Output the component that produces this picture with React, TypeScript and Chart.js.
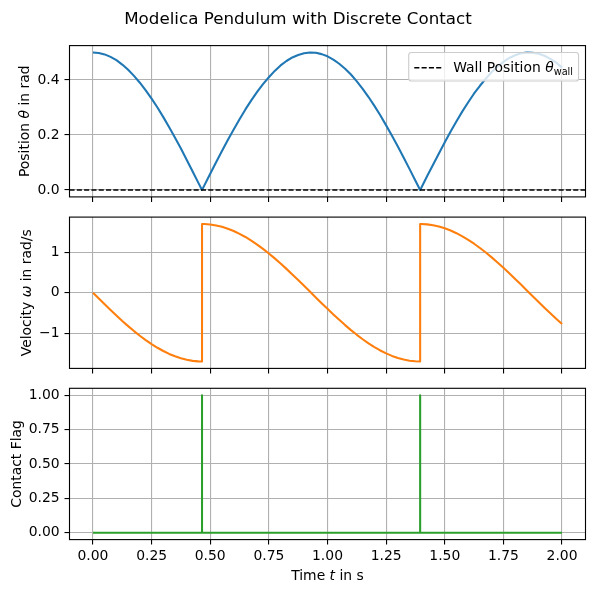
import { useEffect, useRef } from 'react';
import { Chart, registerables } from 'chart.js';

Chart.register(...registerables);

// ---- simulation samples ----
const timeS = [
  0, 0.025, 0.05, 0.075, 0.1, 0.125, 0.15, 0.175, 0.2, 0.225, 0.25, 0.275, 0.3, 0.325, 0.35, 0.375, 0.4, 0.425, 0.45,
  0.465, 0.465,
  0.475, 0.5, 0.525, 0.55, 0.575, 0.6, 0.625, 0.65, 0.675, 0.7, 0.725, 0.75, 0.775, 0.8, 0.825, 0.85, 0.875, 0.9, 0.925,
  0.95, 0.975, 1.0, 1.025, 1.05, 1.075, 1.1, 1.125, 1.15, 1.175, 1.2, 1.225, 1.25, 1.275, 1.3, 1.325, 1.35, 1.375,
  1.395, 1.395,
  1.4, 1.425, 1.45, 1.475, 1.5, 1.525, 1.55, 1.575, 1.6, 1.625, 1.65, 1.675, 1.7, 1.725, 1.75, 1.775, 1.8, 1.825, 1.85,
  1.875, 1.9, 1.925, 1.95, 1.975, 2.0,
];

const positionRad = [
  0.5, 0.498, 0.493, 0.484, 0.472, 0.456, 0.437, 0.415, 0.39, 0.362, 0.332, 0.3, 0.265, 0.228, 0.19, 0.151, 0.109, 0.067, 0.025,
  0, 0,
  0.017, 0.059, 0.101, 0.142, 0.182, 0.22, 0.257, 0.293, 0.326, 0.357, 0.385, 0.41, 0.433, 0.453, 0.469, 0.482, 0.491, 0.497, 0.5,
  0.499, 0.494, 0.486, 0.474, 0.459, 0.441, 0.42, 0.395, 0.368, 0.338, 0.306, 0.272, 0.235, 0.197, 0.158, 0.117, 0.076, 0.034,
  0, 0,
  0.008, 0.051, 0.092, 0.133, 0.174, 0.213, 0.25, 0.286, 0.319, 0.351, 0.379, 0.405, 0.429, 0.449, 0.466, 0.48, 0.49, 0.497, 0.5,
  0.499, 0.495, 0.488, 0.477, 0.463, 0.445,
];

const velocityRadS = [
  0, -0.143, -0.284, -0.424, -0.56, -0.693, -0.82, -0.942, -1.057, -1.164, -1.263, -1.353, -1.433, -1.504, -1.563, -1.611, -1.649, -1.675, -1.688,
  -1.69, 1.69,
  1.689, 1.678, 1.655, 1.621, 1.575, 1.517, 1.449, 1.371, 1.282, 1.185, 1.079, 0.966, 0.845, 0.719, 0.587, 0.451, 0.312, 0.171, 0.029,
  -0.114, -0.256, -0.396, -0.533, -0.666, -0.795, -0.918, -1.034, -1.143, -1.244, -1.336, -1.419, -1.491, -1.553, -1.604, -1.643, -1.67, -1.686,
  -1.69, 1.69,
  1.69, 1.681, 1.661, 1.629, 1.585, 1.53, 1.464, 1.387, 1.301, 1.205, 1.101, 0.989, 0.87, 0.744, 0.613, 0.479, 0.34, 0.2, 0.057,
  -0.085, -0.227, -0.368, -0.506, -0.64, -0.77,
];

const contactTimeS = [0, 0.465, 0.465, 0.465, 1.395, 1.395, 1.395, 2.0];
const contactFlag = [0, 0, 1, 0, 0, 1, 0, 0];

const wallPositionRad = 0;

// ---- axes ticks ----
const timeTicks = [0, 0.25, 0.5, 0.75, 1.0, 1.25, 1.5, 1.75, 2.0];
const timeTickLabels = ['0.00', '0.25', '0.50', '0.75', '1.00', '1.25', '1.50', '1.75', '2.00'];
const positionTicks = [0, 0.2, 0.4];
const positionTickLabels = ['0.0', '0.2', '0.4'];
const velocityTicks = [-1, 0, 1];
const velocityTickLabels = ['\u22121', '0', '1'];
const flagTicks = [0, 0.25, 0.5, 0.75, 1.0];
const flagTickLabels = ['0.00', '0.25', '0.50', '0.75', '1.00'];

// ---- figure geometry & style ----
const W = 596;
const H = 593;
const PLOT_LEFT = 69.5;
const PLOT_RIGHT = 585.5;
const X_MIN = -0.1;
const X_MAX = 2.1;
const FONT = '"DejaVu Sans", sans-serif';
const FS = 13.9;
const TITLE_FS = 16.7;
const GRID = '#b0b0b0';
const C0 = '#1f77b4';
const C1 = '#ff7f0e';
const C2 = '#2ca02c';
const LINE_W = 2.08;
const X_AXIS_H = 40;

type Run = { text: string; italic?: boolean; sub?: boolean };

function drawRuns(ctx: CanvasRenderingContext2D, runs: Run[], x: number, y: number, size: number, align: 'left' | 'center') {
  const parts = runs.map((r) => {
    const s = r.sub ? size * 0.7 : size;
    const font = `${r.italic ? 'italic ' : ''}${s}px ${FONT}`;
    ctx.font = font;
    return { r, font, w: ctx.measureText(r.text).width };
  });
  const total = parts.reduce((a, p) => a + p.w, 0);
  let cx = align === 'center' ? x - total / 2 : x;
  ctx.textAlign = 'left';
  ctx.textBaseline = 'alphabetic';
  ctx.fillStyle = '#000';
  for (const p of parts) {
    ctx.font = p.font;
    ctx.fillText(p.r.text, cx, y + (p.r.sub ? size * 0.22 : 0));
    cx += p.w;
  }
  return total;
}

function measureRuns(ctx: CanvasRenderingContext2D, runs: Run[], size: number) {
  let total = 0;
  for (const r of runs) {
    ctx.font = `${r.italic ? 'italic ' : ''}${r.sub ? size * 0.7 : size}px ${FONT}`;
    total += ctx.measureText(r.text).width;
  }
  return total;
}

const titleRuns: Run[] = [{ text: 'Modelica Pendulum with Discrete Contact' }];
const xLabelRuns: Run[] = [{ text: 'Time ' }, { text: 't', italic: true }, { text: ' in s' }];
const legendRuns: Run[] = [{ text: 'Wall Position ' }, { text: '\u03b8', italic: true }, { text: 'wall', sub: true }];

interface PanelSpec {
  top: number;
  bottom: number;
  yMin: number;
  yMax: number;
  yTicks: number[];
  yTickLabels: string[];
  yLabel: Run[];
  yLabelX: number;
  showTimeLabels: boolean;
  datasets: any[];
  extra?: (ctx: CanvasRenderingContext2D, area: any) => void;
}

function toPoints(xs: number[], ys: number[]) {
  return xs.map((x, i) => ({ x, y: ys[i] }));
}

function drawLegend(ctx: CanvasRenderingContext2D, area: any) {
  const pad = 0.4 * FS;
  const handleLen = 2.0 * FS;
  const handleGap = 0.8 * FS;
  const textW = measureRuns(ctx, legendRuns, FS);
  const boxW = pad + handleLen + handleGap + textW + pad;
  const boxH = 28.4;
  const right = area.right - 0.5 * FS;
  const top = area.top + 0.5 * FS;
  const left = right - boxW;
  ctx.save();
  ctx.beginPath();
  const r = 2.8;
  ctx.roundRect(left, top, boxW, boxH, r);
  ctx.fillStyle = 'rgba(255,255,255,0.8)';
  ctx.fill();
  ctx.lineWidth = 1.1;
  ctx.strokeStyle = '#cccccc';
  ctx.stroke();
  const cy = top + boxH / 2 + 1;
  ctx.beginPath();
  ctx.setLineDash([5.1, 2.2]);
  ctx.strokeStyle = '#000';
  ctx.lineWidth = 1.39;
  ctx.moveTo(left + pad, cy);
  ctx.lineTo(left + pad + handleLen, cy);
  ctx.stroke();
  ctx.setLineDash([]);
  drawRuns(ctx, legendRuns, left + pad + handleLen + handleGap, top + boxH / 2 + 5, FS, 'left');
  ctx.restore();
}

const panels: PanelSpec[] = [
  {
    top: 45.6,
    bottom: 196.9,
    yMin: -0.025,
    yMax: 0.525,
    yTicks: positionTicks,
    yTickLabels: positionTickLabels,
    yLabel: [{ text: 'Position ' }, { text: '\u03b8', italic: true }, { text: ' in rad' }],
    yLabelX: 29,
    showTimeLabels: false,
    datasets: [
      {
        data: [
          { x: X_MIN, y: wallPositionRad },
          { x: X_MAX, y: wallPositionRad },
        ],
        borderColor: '#000',
        borderWidth: 1.39,
        borderDash: [5.1, 2.2],
        order: 0,
      },
      {
        data: toPoints(timeS, positionRad),
        borderColor: C0,
        borderWidth: LINE_W,
        order: 1,
      },
    ],
    extra: (ctx, area) => {
      drawLegend(ctx, area);
      drawRuns(ctx, titleRuns, W / 2, 24, TITLE_FS, 'center');
    },
  },
  {
    top: 217.1,
    bottom: 368.4,
    yMin: -1.86,
    yMax: 1.86,
    yTicks: velocityTicks,
    yTickLabels: velocityTickLabels,
    yLabel: [{ text: 'Velocity ' }, { text: '\u03c9', italic: true }, { text: ' in rad/s' }],
    yLabelX: 30.5,
    showTimeLabels: false,
    datasets: [
      {
        data: toPoints(timeS, velocityRadS),
        borderColor: C1,
        borderWidth: LINE_W,
      },
    ],
  },
  {
    top: 388.3,
    bottom: 539.6,
    yMin: -0.05,
    yMax: 1.05,
    yTicks: flagTicks,
    yTickLabels: flagTickLabels,
    yLabel: [{ text: 'Contact Flag' }],
    yLabelX: 20.5,
    showTimeLabels: true,
    datasets: [
      {
        data: toPoints(contactTimeS, contactFlag),
        borderColor: C2,
        borderWidth: LINE_W,
      },
    ],
    extra: (ctx, area) => {
      drawRuns(ctx, xLabelRuns, (area.left + area.right) / 2, 580, FS, 'center');
    },
  },
];

function buildConfig(spec: PanelSpec): any {
  const decor = {
    id: 'panelDecor',
    afterDatasetsDraw(chart: any) {
      const ctx: CanvasRenderingContext2D = chart.ctx;
      const a = chart.chartArea;
      ctx.save();
      ctx.strokeStyle = '#000';
      ctx.lineWidth = 1.11;
      ctx.strokeRect(a.left, a.top, a.right - a.left, a.bottom - a.top);
      ctx.translate(spec.yLabelX, (a.top + a.bottom) / 2);
      ctx.rotate(-Math.PI / 2);
      drawRuns(ctx, spec.yLabel, 0, 0, FS, 'center');
      ctx.restore();
      if (spec.extra) {
        ctx.save();
        spec.extra(ctx, a);
        ctx.restore();
      }
    },
  };

  return {
    type: 'line',
    data: {
      datasets: spec.datasets.map((d) => ({
        pointRadius: 0,
        pointHoverRadius: 0,
        tension: 0,
        fill: false,
        borderJoinStyle: 'round',
        ...d,
      })),
    },
    options: {
      animation: false,
      responsive: false,
      devicePixelRatio: 1,
      events: [],
      layout: {
        padding: { left: 0, right: W - PLOT_RIGHT, top: spec.top, bottom: H - spec.bottom - X_AXIS_H },
      },
      plugins: {
        legend: { display: false },
        title: { display: false },
        tooltip: { enabled: false },
      },
      scales: {
        x: {
          type: 'linear',
          min: X_MIN,
          max: X_MAX,
          afterBuildTicks: (s: any) => {
            s.ticks = timeTicks.map((v) => ({ value: v }));
          },
          afterFit: (s: any) => {
            s.height = X_AXIS_H;
          },
          ticks: {
            display: spec.showTimeLabels,
            autoSkip: false,
            maxRotation: 0,
            padding: 3,
            color: '#000',
            font: { family: FONT, size: FS },
            callback: (_v: any, i: number) => timeTickLabels[i],
          },
          grid: {
            color: GRID,
            lineWidth: 1.1,
            drawTicks: true,
            tickLength: 5,
            tickColor: '#000',
            tickWidth: 1.1,
          },
          border: { display: false },
        },
        y: {
          type: 'linear',
          min: spec.yMin,
          max: spec.yMax,
          afterBuildTicks: (s: any) => {
            s.ticks = spec.yTicks.map((v) => ({ value: v }));
          },
          afterFit: (s: any) => {
            s.width = PLOT_LEFT;
          },
          ticks: {
            autoSkip: false,
            padding: 4.9,
            color: '#000',
            font: { family: FONT, size: FS },
            callback: (_v: any, i: number) => spec.yTickLabels[i],
          },
          grid: {
            color: GRID,
            lineWidth: 1.1,
            drawTicks: true,
            tickLength: 5,
            tickColor: '#000',
            tickWidth: 1.1,
          },
          border: { display: false },
        },
      },
    },
    plugins: [decor],
  };
}

function Panel({ spec }: { spec: PanelSpec }) {
  const ref = useRef<HTMLCanvasElement>(null);
  useEffect(() => {
    const chart = new Chart(ref.current as HTMLCanvasElement, buildConfig(spec));
    return () => chart.destroy();
  }, [spec]);
  return (
    <canvas
      ref={ref}
      width={W}
      height={H}
      style={{ position: 'absolute', left: 0, top: 0, width: W, height: H }}
    />
  );
}

export default function App() {
  return (
    <div style={{ position: 'absolute', left: 0, top: 0, width: W, height: H, background: '#fff', overflow: 'hidden' }}>
      {panels.map((p, i) => (
        <Panel key={i} spec={p} />
      ))}
    </div>
  );
}
